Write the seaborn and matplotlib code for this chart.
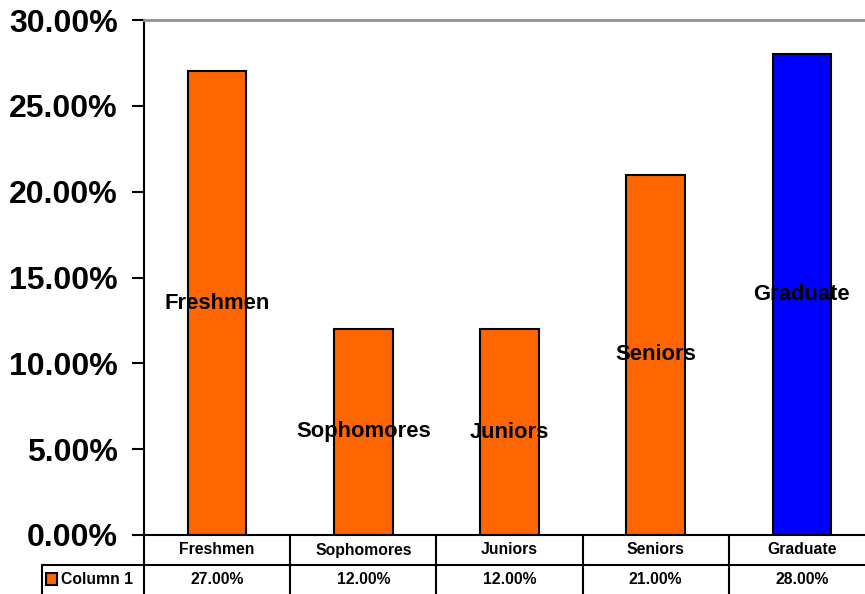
import matplotlib
matplotlib.use("Agg")
import matplotlib.pyplot as plt
import matplotlib.transforms as mtransforms
from matplotlib.patches import Rectangle
import seaborn as sns

categories = ["Freshmen", "Sophomores", "Juniors", "Seniors", "Graduate"]
values = [27.0, 12.0, 12.0, 21.0, 28.0]
bar_colors = ["#FF6600", "#FF6600", "#FF6600", "#FF6600", "#0000FF"]
series_name = "Column 1"
yticks = [0, 5, 10, 15, 20, 25, 30]

sns.set_style("white")
plt.rcParams['font.family'] = ['Liberation Sans', 'DejaVu Sans']
plt.rcParams['font.weight'] = 'bold'
plt.rcParams['text.color'] = 'black'
plt.rcParams['ytick.color'] = 'black'
plt.rcParams['ytick.labelcolor'] = 'black'

W, H = 865, 594
fig = plt.figure(figsize=(W / 100, H / 100), dpi=100)
ax = fig.add_axes([144 / W, (H - 535) / H, (875 - 144) / W, (535 - 20) / H])

sns.barplot(x=categories, y=values, hue=categories, palette=bar_colors,
            legend=False, width=0.4, edgecolor="black", linewidth=1.5,
            saturation=1, ax=ax)

ax.set_xlim(-0.5, len(categories) - 0.5)
ax.set_ylim(0, 30)
ax.set_yticks(yticks)
ax.set_yticklabels(["{:.2f}%".format(t) for t in yticks], fontsize=23,
                   fontweight="bold", color="black")
ax.tick_params(axis="y", length=8.5, width=1.5, color="black", pad=10.5,
               left=True)
ax.set_xticks([])
ax.set_xlabel("")
ax.set_ylabel("")

for s in ["left", "bottom"]:
    ax.spines[s].set_color("black")
    ax.spines[s].set_linewidth(1.5)
ax.spines["top"].set_color("#909090")
ax.spines["top"].set_linewidth(2)
ax.spines["right"].set_visible(False)

# category labels inside bars at mid-height
for i, (c, v) in enumerate(zip(categories, values)):
    ax.text(i, v / 2, c, ha="center", va="center", fontsize=15.8,
            fontweight="bold", color="black")

# data table under the plot
trans = mtransforms.blended_transform_factory(ax.transData, fig.transFigure)
row1_top = (H - 535) / H
row1_bot = (H - 565) / H
row2_bot = (H - 594) / H
lw = 1.5
n = len(categories)
ax.plot([-0.5, n - 0.5], [row1_bot, row1_bot], color="black", lw=lw,
        transform=trans, clip_on=False)
for i in range(n):
    ax.plot([i - 0.5, i - 0.5], [row1_top, row2_bot], color="black", lw=lw,
            transform=trans, clip_on=False)
    ax.text(i, (row1_top + row1_bot) / 2, categories[i], ha="center",
            va="center", fontsize=11.3, fontweight="bold", color="black",
            transform=trans)
    ax.text(i, (row1_bot + row2_bot) / 2, "{:.2f}%".format(values[i]),
            ha="center", va="center", fontsize=11.3, fontweight="bold",
            color="black", transform=trans)

# row header for the series
fig.add_artist(plt.Line2D([42 / W, 144 / W], [row1_bot, row1_bot],
                          color="black", lw=lw))
fig.add_artist(plt.Line2D([42 / W, 42 / W], [row1_bot, row2_bot],
                          color="black", lw=lw))
fig.add_artist(Rectangle((46 / W, (H - 585) / H), 11 / W, 12 / H,
                         facecolor="#FF6600", edgecolor="black", lw=1.5,
                         transform=fig.transFigure))
fig.text(61 / W, (row1_bot + row2_bot) / 2, series_name, ha="left",
         va="center", fontsize=11.3, fontweight="bold", color="black")

fig.savefig("out.png", dpi=100)
